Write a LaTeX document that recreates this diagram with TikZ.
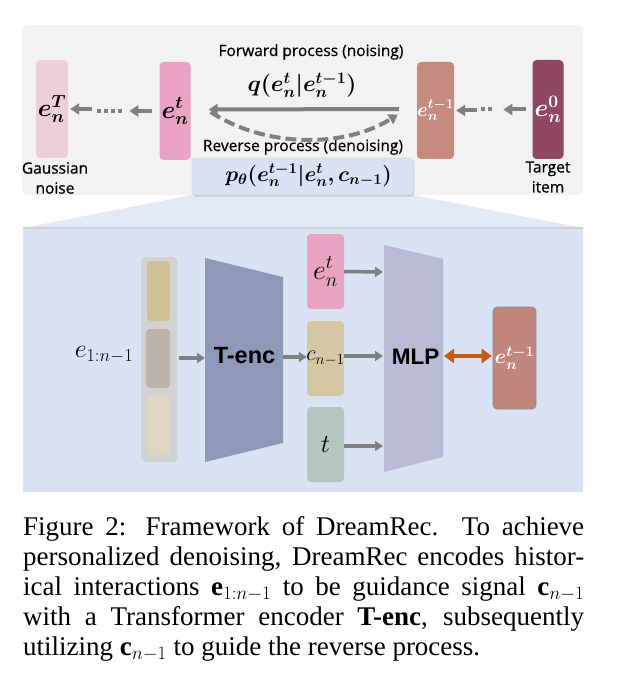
\RequirePackage{fix-cm}
\documentclass[tikz,border=0pt]{standalone}
\usepackage{fontspec}
\usepackage{amsmath,bm}
\setmainfont{Liberation Serif}
\newfontfamily\lblfont{Open Sans}[FakeBold=0.6]
\newfontfamily\boldsans{Liberation Sans}[BoldFont={Liberation Sans Bold}]
\usetikzlibrary{arrows.meta,shadows}
\definecolor{panelgrey}{HTML}{F2F2F2}
\definecolor{cenT}{HTML}{EDCFD8}
\definecolor{cetn}{HTML}{E9A3C3}
\definecolor{cetm}{HTML}{C58B7E}
\definecolor{cenz}{HTML}{8F4765}
\definecolor{pblue}{HTML}{DAE3F3}
\definecolor{fanblue}{HTML}{E3E9F5}
\definecolor{agrey}{HTML}{808080}
\definecolor{colgrey}{HTML}{D2D2D2}
\definecolor{hA}{HTML}{CFC097}
\definecolor{hB}{HTML}{BFB3A9}
\definecolor{hC}{HTML}{DFD7C1}
\definecolor{tenc}{HTML}{8E98B8}
\definecolor{cc}{HTML}{D5C7A1}
\definecolor{ct}{HTML}{B5C5BF}
\definecolor{mlp}{HTML}{B9BAD3}
\definecolor{orng}{HTML}{C55A11}
\definecolor{cetm2}{HTML}{C0857C}
\tikzset{
  vecbox/.style={rounded corners=4pt, minimum width=#1, inner sep=0pt},
  garrow/.style={draw=agrey, line width=4pt, -{Triangle[length=9pt,width=11pt]}},
  gdots/.style={draw=agrey, line width=4pt, dash pattern=on 4pt off 3pt},
  lbl/.style={font=\lblfont\fontsize{15.5}{17}\selectfont, inner sep=0pt},
  bigmath/.style={font=\fontsize{25}{27}\selectfont, inner sep=0pt},
}
\begin{document}
\begin{tikzpicture}[x=1pt,y=-1pt]
\useasboundingbox[fill=white] (0,0) rectangle (621,687);
% top panel
\fill[panelgrey, rounded corners=5pt] (22,25) rectangle (583,195);
% fan
\fill[fanblue] (192,195) -- (413,195) -- (583,228) -- (23,228) -- cycle;
% bottom panel
\fill[black!18] (23,226.5) rectangle (583,230);
\fill[pblue] (23,228.5) rectangle (583,492);

% top vectors
\node[vecbox=32pt, minimum height=98pt, fill=cenT] (enT) at (52,109) {};
\node[bigmath] at (enT) {$\bm{e_n^T}$};
\node[vecbox=31pt, minimum height=98pt, fill=cetn] (etn) at (175,111) {};
\node[bigmath] at (etn) {$\bm{e_n^t}$};
\node[vecbox=37pt, minimum height=97pt, fill=cetm] (etm) at (435.5,110.5) {};
\node[font=\fontsize{19.5}{21}\selectfont, text=white, inner sep=0pt] at (etm) {$\bm{e_n^{t-1}}$};
\node[vecbox=31pt, minimum height=99pt, fill=cenz] (enz) at (548,109.5) {};
\node[bigmath, text=white] at (enz) {$\bm{e_n^0}$};

% labels
\node[lbl, align=center] (gauss) at (55,178) {Gaussian\\[3pt]noise};
\node[lbl, align=center] (target) at (548,177) {Target\\[3pt]item};
\node[lbl] (fwd) at (311,52) {Forward process (noising)};
\node[lbl] (rev) at (303,147) {Reverse process (denoising)};
\node[font=\fontsize{23}{25}\selectfont, inner sep=0pt] (q) at (302,85) {$\bm{q(e_n^t|e_n^{t-1})}$};

% dotted arrows left
\draw[garrow] ([xshift=-7pt]etn.west) -- ([xshift=-30pt]etn.west);
\draw[gdots] ([xshift=-37pt]etn.west) -- ([xshift=-63pt]etn.west);
\draw[garrow] ([xshift=24pt]enT.east) -- ([xshift=2pt]enT.east);
% dotted arrows right
\draw[garrow] ([xshift=-6pt]enz.west) -- ([xshift=-29pt]enz.west);
\draw[gdots] ([xshift=-40pt]enz.west) -- ([xshift=-51pt]enz.west);
\draw[garrow] ([xshift=23pt]etm.east) -- ([xshift=2pt]etm.east);

% forward / reverse arrows
\draw[garrow] ([yshift=1.5pt,xshift=-18pt]etm.west) -- ([yshift=1.5pt,xshift=18pt]etn.east);
\draw[draw=agrey, line width=4pt, dash pattern=on 11pt off 5pt, -{Triangle[length=9pt,width=11pt]}]
  ([yshift=-1pt,xshift=20pt]etn.east) .. controls (265,148) and (345,148) .. ([yshift=-4pt,xshift=-19pt]etm.west);

% p box
\node[fill=pblue, draw=pblue!80!gray, rounded corners=3pt, minimum width=221pt, minimum height=37pt,
      drop shadow={opacity=0.25, shadow xshift=1pt, shadow yshift=-1.5pt}] (pbox) at (302.5,176.5) {};
\node[font=\fontsize{21.5}{23}\selectfont, inner sep=0pt] at ([xshift=6pt,yshift=1pt]pbox) {$\bm{p_\theta(e_n^{t-1}|e_n^t, c_{n-1})}$};

% bottom panel content
\node[font=\fontsize{26}{28}\selectfont, inner sep=0pt] (hist) at (104,355) {$e_{1:n-1}$};
\node[vecbox=36pt, minimum height=205pt, fill=colgrey] (col) at (159,359.5) {};
\node[vecbox=23pt, minimum height=60pt, fill=hA] (h1) at (158.5,291) {};
\node[vecbox=24pt, minimum height=59pt, fill=hB] (h2) at (158,358.5) {};
\node[vecbox=22pt, minimum height=59pt, fill=hC] (h3) at (159,425.5) {};

\fill[tenc] (205,258) -- (283,277) -- (283,443) -- (205,462) -- cycle;
\node[font=\boldsans\bfseries\fontsize{23.5}{25}\selectfont, inner sep=0pt] (tenc) at (244.5,356) {T-enc};
\coordinate (tencL) at (205,358);
\coordinate (tencR) at (283,357);

\node[vecbox=37pt, minimum height=75pt, fill=cetn] (etn2) at (325.5,271.5) {};
\node[font=\fontsize{28}{30}\selectfont, inner sep=0pt] at (etn2) {$e_n^t$};
\node[vecbox=37pt, minimum height=75pt, fill=cc] (cn) at (325.5,358.5) {};
\node[font=\fontsize{22}{24}\selectfont, inner sep=0pt] at (cn) {$c_{n-1}$};
\node[vecbox=37pt, minimum height=75pt, fill=ct] (tb) at (325.5,444.5) {};
\node[font=\fontsize{26}{28}\selectfont, inner sep=0pt] at (tb) {$t$};

\fill[mlp] (384,245) -- (443,259) -- (443,457) -- (384,472) -- cycle;
\node[font=\boldsans\bfseries\fontsize{22.5}{24}\selectfont, inner sep=0pt] (mlpt) at (415.5,357) {MLP};
\coordinate (mlpL1) at (383,272);
\coordinate (mlpL2) at (383,356);
\coordinate (mlpL3) at (383,446);
\coordinate (mlpR) at (443,356);

\node[vecbox=43pt, minimum height=102pt, fill=cetm2, draw=black!45, line width=0.6pt] (etm2) at (514.5,358) {};
\node[font=\fontsize{21}{23}\selectfont, text=white, inner sep=0pt] at (etm2) {$\bm{e_n^{t-1}}$};

\tikzset{sarrow/.style={draw=agrey, line width=3.5pt, -{Triangle[length=8pt,width=10pt]}}}
\draw[sarrow] ([xshift=2pt]col.east |- tencL) -- (tencL);
\draw[sarrow] (tencR) -- ([yshift=0pt]cn.west |- tencR);
\draw[sarrow] (etn2.east) -- (mlpL1);
\draw[sarrow] (cn.east |- mlpL2) -- (mlpL2);
\draw[sarrow] (tb.east |- mlpL3) -- (mlpL3);
\draw[draw=orng, line width=4.5pt, {Triangle[length=10pt,width=14pt]}-{Triangle[length=10pt,width=14pt]}]
  ([xshift=1pt]mlpR) -- ([xshift=-1pt]etm2.west |- mlpR);

% caption
\node[anchor=north west, inner sep=0pt, text width=561pt, align=justify,
      font=\fontsize{27}{30}\selectfont] (cap) at (23,516) {%
Figure 2: Framework of DreamRec.\ \ To achieve\linebreak
personalized denoising, DreamRec encodes histor-\linebreak
ical interactions $\mathbf{e}_{1:n-1}$ to be guidance signal $\mathbf{c}_{n-1}$\linebreak
with a Transformer encoder \textbf{T-enc}, subsequently\linebreak
utilizing $\mathbf{c}_{n-1}$ to guide the reverse process.};
\end{tikzpicture}
\end{document}
